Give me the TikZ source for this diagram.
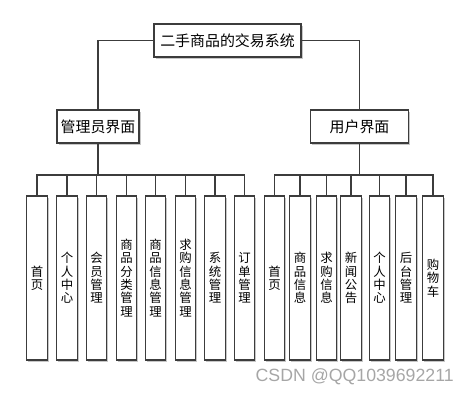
\documentclass[tikz,border=0pt]{standalone}
\usepackage{fontspec}
\setmainfont{Noto Sans CJK SC}
\newfontfamily\wmfont{Liberation Sans}
\usetikzlibrary{shadows}
\definecolor{linec}{HTML}{3C3C3C}
\begin{document}
\begin{tikzpicture}[x=0.75pt,y=-0.75pt,
  box/.style={draw=linec, line width=1.1pt, fill=white, inner sep=0pt,
    drop shadow={shadow xshift=1.2pt, shadow yshift=-1.2pt, fill=black!22, opacity=1}},
  head/.style={box, minimum height=33*0.75pt, font=\fontsize{11.2}{12}\selectfont},
  leaf/.style={box, minimum width=20.5*0.75pt, minimum height=164*0.75pt, align=center,
    font=\fontsize{9.3}{10}\selectfont},
  conn/.style={draw=linec, line width=1.1pt}]
\useasboundingbox (0,0) rectangle (469,394);
\node[head, minimum width=147*0.75pt] (top) at (227.5,40.5) {二手商品的交易系统};
\node[head, minimum width=82*0.75pt] (admin) at (98,126.5) {管理员界面};
\node[head, minimum width=98*0.75pt] (user) at (359.5,126.5) {用户界面};
\draw[conn] (top.west) -| (admin.north);
\draw[conn] (top.east) -| (user.north);
\coordinate (bl) at (98,175);
\coordinate (br) at (359.5,175);
\draw[conn] (admin.south) -- (bl);
\draw[conn] (user.south) -- (br);
% admin leaves
\node[leaf] (a1) at (37,278) {首\\页};
\node[leaf] (a2) at (67,278) {个\\人\\中\\心};
\node[leaf] (a3) at (96.5,278) {会\\员\\管\\理};
\node[leaf] (a4) at (126.5,278) {商\\品\\分\\类\\管\\理};
\node[leaf] (a5) at (155.5,278) {商\\品\\信\\息\\管\\理};
\node[leaf] (a6) at (185.5,278) {求\\购\\信\\息\\管\\理};
\node[leaf] (a7) at (215,278) {系\\统\\管\\理};
\node[leaf] (a8) at (244.5,278) {订\\单\\管\\理};
% user leaves
\node[leaf] (u1) at (274.5,278) {首\\页};
\node[leaf] (u2) at (300,278) {商\\品\\信\\息};
\node[leaf] (u3) at (326.5,278) {求\\购\\信\\息};
\node[leaf] (u4) at (351,278) {新\\闻\\公\\告};
\node[leaf] (u5) at (379.5,278) {个\\人\\中\\心};
\node[leaf] (u6) at (406,278) {后\\台\\管\\理};
\node[leaf] (u7) at (433,278) {购\\物\\车};
\foreach \n in {a1,a2,a3,a4,a5,a6,a7,a8} \draw[conn] (bl) -| (\n.north);
\foreach \n in {u1,u2,u3,u4,u5,u6,u7} \draw[conn] (br) -| (\n.north);
\node[anchor=east, inner sep=0pt, text=black!35, font=\wmfont\fontsize{13.3}{14}\selectfont] (wm) at (454,377) {CSDN @QQ1039692211};
\end{tikzpicture}
\end{document}
